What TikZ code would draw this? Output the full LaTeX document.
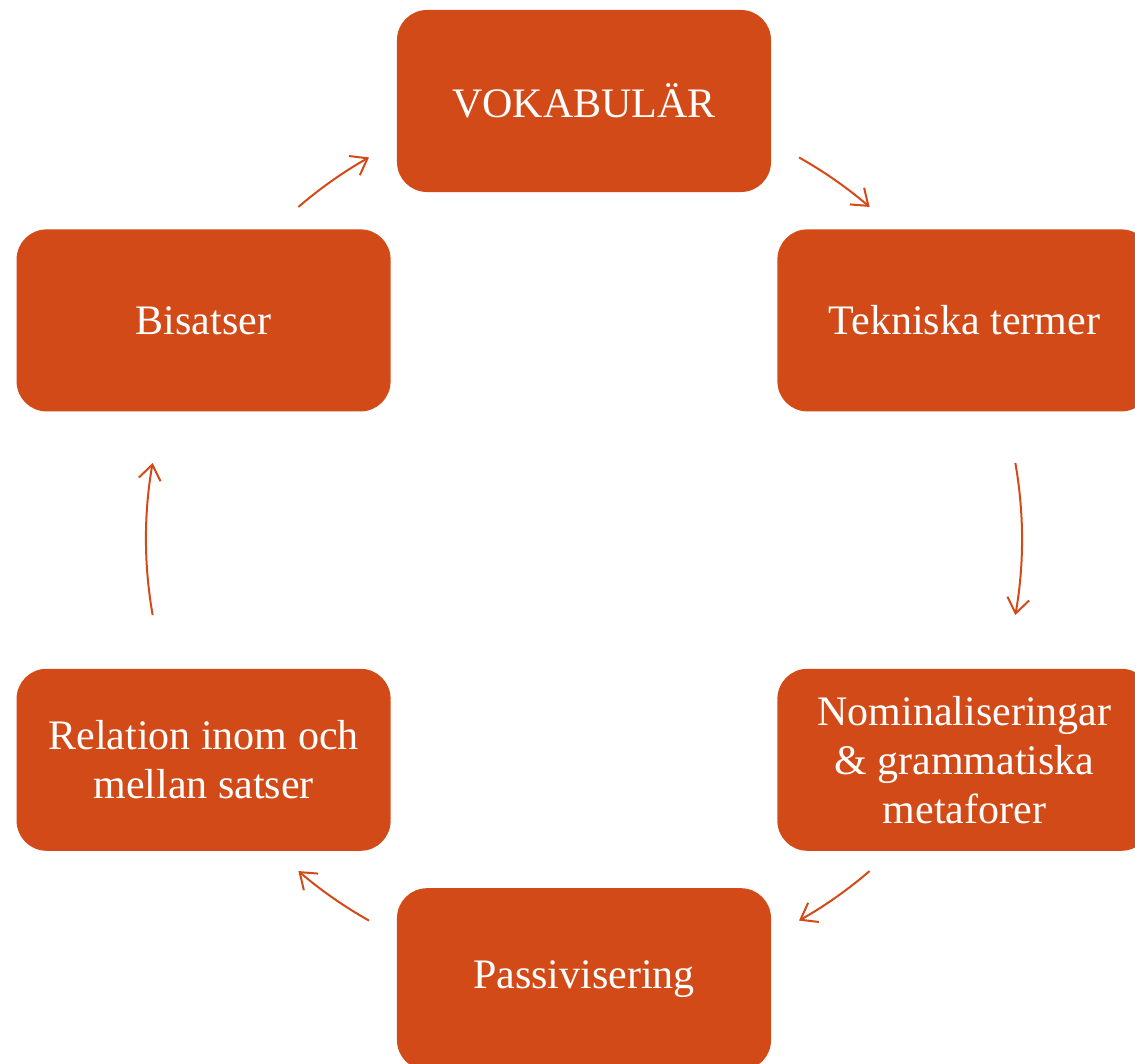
\documentclass[tikz,border=0pt]{standalone}
\usepackage{fontspec}
\setmainfont{Liberation Serif}
\usetikzlibrary{positioning}
\usetikzlibrary{arrows.meta}

\definecolor{rust}{RGB}{210,74,24}

\begin{document}
\begin{tikzpicture}[
                stepbox/.style={rectangle, rounded corners=30bp, fill=rust, text=white, minimum width=374bp, minimum height=182bp, inner sep=0pt, align=center, font=\fontsize{42bp}{49bp}\selectfont},
                cycle_arrow/.style={draw=rust, line width=2bp, -{Straight Barb[length=15bp, width=22bp, line width=2bp]}},
            ]
            \useasboundingbox (-584bp,101bp) rectangle (551bp,-963bp);

            % Nodes
            \node[stepbox]      (vokabular)                                          {VOKABULÄR};
            \node[stepbox]      (termer)     [below right=37bp and 6bp of vokabular] {Tekniska termer};
            \node[stepbox]      (nominal)    [below=257bp of termer]                 {Nominaliseringar\\ \& grammatiska\\ metaforer};
            \node[stepbox]      (passiv)     [below left=37bp and 6bp of nominal]    {Passivisering};
            \node[stepbox]      (relation)   [above left=37bp and 6bp of passiv]     {Relation inom och\\ mellan satser};
            \node[stepbox]      (bisatser)   [above=257bp of relation]               {Bisatser};

            \coordinate         (mid)        at ([yshift=-438bp]vokabular.center);

            %Lines
            \draw[cycle_arrow] ([shift={(130.7:438bp)}]mid) arc[start angle=130.7, end angle=119.4, radius=438bp];
            \draw[cycle_arrow] ([shift={(60.6:438bp)}]mid) arc[start angle=60.6, end angle=49.3, radius=438bp];
            \draw[cycle_arrow] ([shift={(10:438bp)}]mid) arc[start angle=10, end angle=-10, radius=438bp];
            \draw[cycle_arrow] ([shift={(-49.3:438bp)}]mid) arc[start angle=-49.3, end angle=-60.6, radius=438bp];
            \draw[cycle_arrow] ([shift={(-119.4:438bp)}]mid) arc[start angle=-119.4, end angle=-130.7, radius=438bp];
            \draw[cycle_arrow] ([shift={(190:438bp)}]mid) arc[start angle=190, end angle=170, radius=438bp];
        \end{tikzpicture}
\end{document}
